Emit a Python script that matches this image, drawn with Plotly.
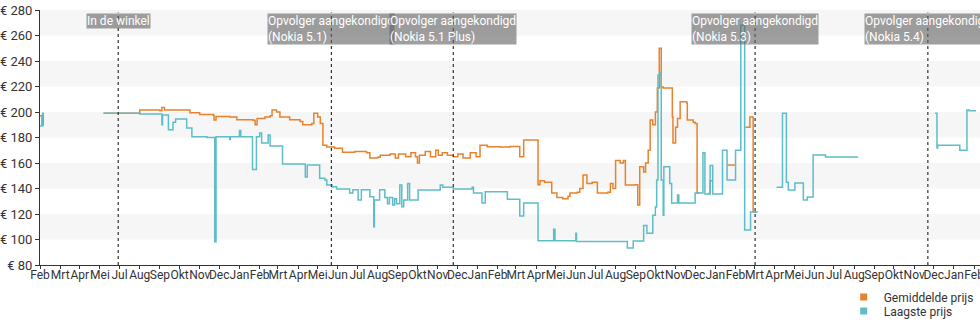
import plotly.graph_objects as go

# ---- data ----
avg_dates = ["2017-03-01","2017-03-04","2017-03-06","2017-03-07","2017-03-08",
    "2017-06-07","2017-08-01","2017-09-01","2017-09-04","2017-09-08","2017-10-17","2017-11-01","2017-11-22","2017-11-23","2017-11-26",
    "2017-12-17","2017-12-28","2018-01-22","2018-01-25","2018-01-28","2018-02-09","2018-02-17","2018-02-20","2018-02-27","2018-03-04",
    "2018-03-19","2018-04-04","2018-04-08","2018-04-22","2018-04-25","2018-05-01","2018-05-05","2018-05-09","2018-05-15","2018-05-27",
    "2018-06-08","2018-06-27","2018-07-15","2018-07-20","2018-08-01","2018-08-05","2018-08-20","2018-08-28","2018-09-02","2018-09-13",
    "2018-09-21","2018-09-28","2018-10-01","2018-10-04","2018-10-13","2018-10-21","2018-10-29","2018-11-02","2018-11-08","2018-11-16",
    "2018-11-25","2018-12-02","2018-12-10","2018-12-21","2018-12-30","2019-01-05","2019-01-16","2019-02-05","2019-02-20","2019-03-07",
    "2019-03-13","2019-04-04","2019-04-07","2019-04-14","2019-04-25","2019-05-03","2019-05-12","2019-05-20","2019-05-23","2019-06-03",
    "2019-06-07","2019-06-12","2019-06-18","2019-06-26","2019-07-04","2019-07-20","2019-07-24","2019-07-28","2019-08-01","2019-08-08",
    "2019-08-13","2019-08-16","2019-08-31","2019-09-04","2019-09-07","2019-09-13","2019-09-16","2019-09-20","2019-09-23","2019-09-27",
    "2019-10-01","2019-10-04","2019-10-07","2019-10-10","2019-10-13","2019-10-27","2019-10-28","2019-11-01","2019-11-04","2019-11-08",
    "2019-11-18","2019-11-19","2019-11-28","2019-12-01","2019-12-04","2019-12-08","2019-12-09","2019-12-21","2019-12-24","2019-12-27",
    "2019-12-28","2020-01-19","2020-01-31","2020-02-01","2020-02-16","2020-02-23","2020-02-28","2020-03-04"]
avg_prices = [197,190,198,198,None,
    199,201.5,201,203.5,201.5,199.5,198,197.5,193.7,196.5,
    196,194,193.5,190,195,196,197,201.5,200,196,
    194,192.5,190,191,199,196,191,174,172.5,171.5,
    168.5,169,168,164,164.5,166,167,164,167,165,
    168,165,160,166,169,165,170,166,168,166,
    165,167,164,168,165,174,172.8,172.5,173,165,
    178,143,146,145,136.5,133,132,134,136.5,137,
    140,150.6,144,145,136.5,137,144,140,162,160,
    162,142.7,143,127,157,153,160,170,193.7,190,
    200,218.8,250,219.6,218.8,196,175.7,188,195,208,
    207,193.7,192,191,136.5,136.5,None,136,146,146,
    None,158.4,158.4,None,188,196,121.6,121.6]

low_dates = ["2017-03-01","2017-03-05","2017-03-07","2017-03-08",
    "2017-06-06","2017-08-01","2017-09-04","2017-09-05","2017-09-14","2017-09-21","2017-09-25","2017-10-12","2017-10-20","2017-11-12",
    "2017-11-24","2017-11-26","2017-12-17","2017-12-18","2018-01-01","2018-01-03","2018-01-21","2018-01-27","2018-02-01","2018-02-04",
    "2018-02-14","2018-02-17","2018-03-08","2018-04-12","2018-04-15","2018-05-04","2018-05-12","2018-05-15","2018-05-23","2018-05-30",
    "2018-06-19","2018-06-24","2018-07-02","2018-07-07","2018-07-20","2018-07-26","2018-07-27","2018-08-04","2018-08-12","2018-08-16",
    "2018-08-19","2018-08-24","2018-08-27","2018-08-30","2018-09-04","2018-09-07","2018-09-10","2018-09-16","2018-09-19","2018-10-02",
    "2018-11-05","2018-11-09","2018-11-25","2018-12-24","2018-12-26","2019-01-08","2019-01-13","2019-02-16","2019-03-07","2019-03-13",
    "2019-04-04","2019-04-28","2019-04-30","2019-06-01","2019-06-02","2019-08-19","2019-08-28","2019-09-13","2019-09-18","2019-09-27",
    "2019-10-01","2019-10-03","2019-10-05","2019-10-08","2019-10-10","2019-10-13","2019-10-14","2019-10-23","2019-10-26","2019-11-04",
    "2019-11-06","2019-12-01","2019-12-13","2019-12-16","2019-12-24","2019-12-28","2020-01-12","2020-01-19","2020-02-01","2020-02-09",
    "2020-02-15","2020-02-24","2020-03-06","2020-03-07","2020-04-04","2020-04-13","2020-04-19","2020-04-22","2020-05-02","2020-05-15",
    "2020-05-21","2020-05-30","2020-06-18","2020-08-07","2020-08-08","2020-12-03","2020-12-06","2020-12-07","2021-01-10","2021-01-21",
    "2021-01-24","2021-02-04"]
low_prices = [189,199,199,None,
    199,198.5,190,197.6,186,192,194.5,187.5,180.6,180,
    98.3,180.6,178.5,180.6,185.4,180.6,155,180.6,183.5,175.7,
    182,173.3,159.2,149,158.4,148,146.7,142.7,141.4,139.6,
    136.5,139,131,139,133.6,110,131,139,133,128,
    133,127,132,128,142.7,125.7,131,144,131,138.8,
    142.7,141,139.6,141,136.5,128.6,137.5,131.5,118.5,128.6,
    99,108,99,105,98.5,93.3,98.8,111,105,119,
    125.5,146.7,229,230.6,146.7,119,157,144,128.6,135,
    128.6,136.5,168,135.7,158,135.7,170,146.7,170,268,
    107.5,121.6,121.6,None,141,199,145,138.8,144.3,131,
    133.3,166.3,164.7,164.7,None,199,171.7,174,170,201.6,
    201,201]

event_dates = ["2017-06-29", "2018-05-22", "2018-11-25", "2020-03-02", "2020-11-22"]
event_labels = ["In de winkel",
                "Opvolger aangekondigd<br>(Nokia 5.1)",
                "Opvolger aangekondigd<br>(Nokia 5.1 Plus)",
                "Opvolger aangekondigd<br>(Nokia 5.3)",
                "Opvolger aangekondigd<br>(Nokia 5.4)"]

y_ticks = [80, 100, 120, 140, 160, 180, 200, 220, 240, 260, 280]
x_tick_dates = [f"{y}-{m:02d}-01" for y, m in
                [(2017, m) for m in range(3, 13)] + [(2018, m) for m in range(1, 13)] +
                [(2019, m) for m in range(1, 13)] + [(2020, m) for m in range(1, 13)] +
                [(2021, 1), (2021, 2)]]
x_tick_labels = (["Feb", "Mrt", "Apr", "Mei", "Jul", "Aug", "Sep", "Okt", "Nov", "Dec", "Jan"] +
                 ["Feb", "Mrt", "Apr", "Mei", "Jun", "Jul", "Aug", "Sep", "Okt", "Nov", "Dec", "Jan"] * 3 +
                 ["Feb"])

series_names = ["Gemiddelde prijs", "Laagste prijs"]
ORANGE = "#e8822c"
TEAL = "#5dbdc8"
FONT = "Roboto"

fig = go.Figure()
fig.add_trace(go.Scatter(x=avg_dates, y=avg_prices, mode="lines", line=dict(color=ORANGE, width=1.5, shape="hv"),
                         connectgaps=False, showlegend=False, hoverinfo="skip"))
fig.add_trace(go.Scatter(x=low_dates, y=low_prices, mode="lines", line=dict(color=TEAL, width=1.5, shape="hv"),
                         connectgaps=False, showlegend=False, hoverinfo="skip"))
for name, col, lg in zip(series_names, [ORANGE, TEAL], ["legend", "legend2"]):
    fig.add_trace(go.Scatter(x=[None], y=[None], mode="markers", name=name, legend=lg,
                             marker=dict(symbol="square", size=7, color=col)))

shapes = []
# alternating background bands
for lo, hi in zip(y_ticks[1::2], y_ticks[2::2]):
    shapes.append(dict(type="rect", xref="paper", x0=0, x1=1, yref="y", y0=lo, y1=hi,
                       fillcolor="#f6f6f6", line=dict(width=0), layer="below"))
for d in event_dates:
    shapes.append(dict(type="line", xref="x", x0=d, x1=d, yref="paper", y0=0, y1=0.99,
                       line=dict(color="#333", width=1.2, dash="dot")))

annotations = []
for d, t in zip(event_dates, event_labels):
    annotations.append(dict(x=d, xref="x", y=0.99, yref="paper", yanchor="top", xanchor="center",
                            text=t, showarrow=False, align="left",
                            font=dict(family=FONT, size=12, color="white"),
                            bgcolor="rgba(100,100,100,0.62)", borderpad=0))

legend_common = dict(xanchor="left", yanchor="middle", orientation="v",
                     font=dict(family=FONT, size=12, color="#333"), bgcolor="rgba(0,0,0,0)", itemwidth=30)

fig.update_layout(
    width=980, height=325,
    margin=dict(l=40, r=0, t=10, b=60, autoexpand=False),
    plot_bgcolor="white", paper_bgcolor="white",
    font=dict(family=FONT, size=12, color="#333"),
    shapes=shapes, annotations=annotations,
    legend=dict(x=0.855, y=-0.125, **legend_common),
    legend2=dict(x=0.855, y=-0.18, **legend_common),
    xaxis=dict(type="date", range=["2017-03-01", "2021-02-10"], tickvals=x_tick_dates, ticktext=x_tick_labels,
               tickangle=0, showgrid=False, zeroline=False, showline=True, linecolor="#333", linewidth=1,
               ticks="outside", ticklen=3, tickcolor="#333", tickfont=dict(size=12, color="#333"),
               ticklabeloverflow="allow", ticklabelstandoff=-4),
    yaxis=dict(range=[80, 280], tickvals=y_ticks, ticktext=[f"€ {v}" for v in y_ticks],
               showgrid=False, zeroline=False, showline=True, linecolor="#333", linewidth=1,
               ticks="outside", ticklen=4, tickcolor="#333", tickfont=dict(size=13, color="#333")),
)

fig.write_html("out.html")
